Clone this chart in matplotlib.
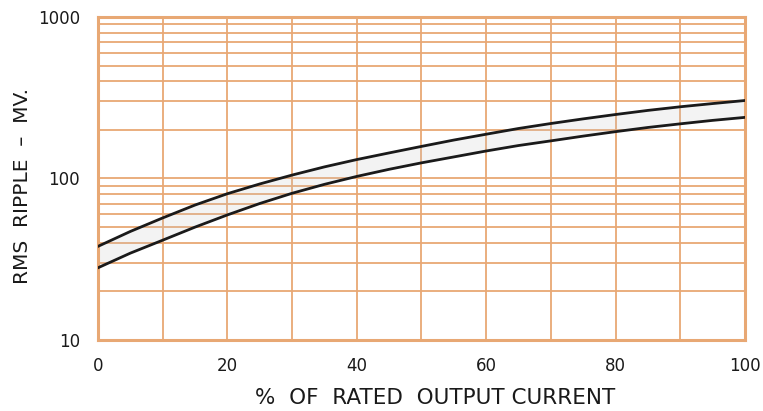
import matplotlib
matplotlib.use("Agg")
import matplotlib.pyplot as plt
from matplotlib.ticker import FixedLocator, NullFormatter, FixedFormatter

# values
load_pct = [0, 5, 10, 15, 20, 25, 30, 35, 40, 45, 50,
            55, 60, 65, 70, 75, 80, 85, 90, 95, 100]
ripple_upper = [38, 47, 57, 68.5, 80.5, 92.5, 105, 118, 131, 144, 158,
                173, 188, 204, 219, 234, 249, 264, 278, 291, 304]
ripple_lower = [28, 34.5, 41.5, 50, 59.5, 70, 81, 92, 103, 114, 125,
                136, 148, 160, 171, 183, 195, 207, 218, 229, 239]

x_ticks = [0, 20, 40, 60, 80, 100]
y_ticks = [10, 100, 1000]
y_grid = [20, 30, 40, 50, 60, 70, 80, 90, 100, 200, 300, 400, 500, 600, 700, 800, 900]

GRID = "#e8a874"
INK = "#1a1a1a"

fig = plt.figure(figsize=(7.63, 4.11), dpi=100)
ax = fig.add_axes([0.1284, 0.1727, 0.848, 0.786])

ax.set_yscale("log")
ax.set_xlim(0, 100)
ax.set_ylim(10, 1000)

# orange graph-paper grid
for x in range(10, 100, 10):
    ax.axvline(x, color=GRID, lw=1.3, zorder=1)
for y in y_grid:
    ax.axhline(y, color=GRID, lw=1.3, zorder=1)

for s in ax.spines.values():
    s.set_color(GRID)
    s.set_linewidth(2.2)

# faint shaded band between the curves
ax.fill_between(load_pct, ripple_lower, ripple_upper, color="#c4c4c4", alpha=0.2, lw=0, zorder=2)
ax.plot(load_pct, ripple_upper, color=INK, lw=2.0, zorder=3)
ax.plot(load_pct, ripple_lower, color=INK, lw=2.0, zorder=3)

ax.xaxis.set_major_locator(FixedLocator(x_ticks))
ax.yaxis.set_major_locator(FixedLocator(y_ticks))
ax.yaxis.set_major_formatter(FixedFormatter([str(v) for v in y_ticks]))
ax.yaxis.set_minor_formatter(NullFormatter())
ax.tick_params(axis="both", which="both", length=0, labelsize=12, colors=INK)
ax.tick_params(axis="x", pad=12)
ax.tick_params(axis="y", pad=13)

ax.set_xlabel("%  OF  RATED  OUTPUT CURRENT", fontsize=15.5, color=INK)
ax.xaxis.set_label_coords(0.521, -0.149)
ax.set_ylabel("RMS  RIPPLE  –  MV.", fontsize=14.5, color=INK)
ax.yaxis.set_label_coords(-0.102, 0.478)

fig.savefig("out.png", dpi=100)
